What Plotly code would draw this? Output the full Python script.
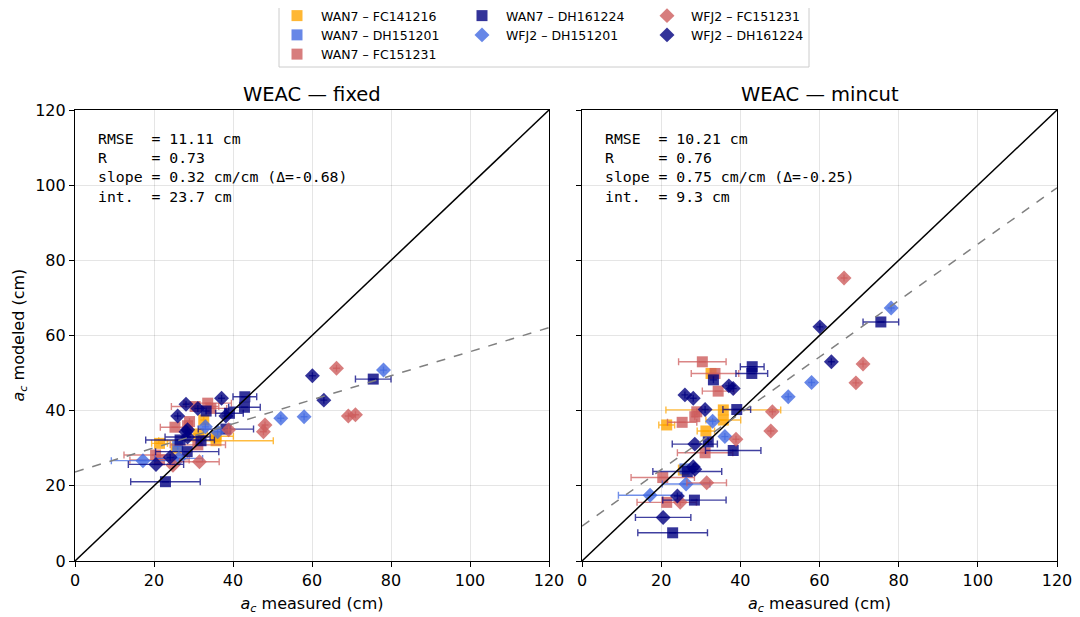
import plotly.graph_objects as go

# ---------------- data ----------------
series_names = ["WAN7 – FC141216", "WAN7 – DH151201", "WAN7 – FC151231", "WAN7 – DH161224",
                "WFJ2 – DH151201", "WFJ2 – FC151231", "WFJ2 – DH161224"]

# WAN7 – FC141216 (orange squares)
orange_x = [21.4, 35.7, 35.7, 32.6, 31.3, 25.6]
orange_xerr = [2.0, 14.5, 4.4, 0.0, 2.2, 0.0]
orange_fixed = [31.3, 32.0, 33.2, 37.5, 33.8, 30.0]
orange_mincut = [36.2, 40.2, 37.5, 49.9, 34.6, 24.2]

# WAN7 – DH151201 (blue squares)
bluesq_x = [26.0]
bluesq_xerr = [0.0]
bluesq_fixed = [30.5]
bluesq_mincut = [24.5]

# WAN7 – FC151231 (red squares)
redsq_x = [30.4, 33.6, 34.4, 29.0, 28.5, 25.3, 31.1, 20.4, 21.4]
redsq_xerr = [6.0, 6.0, 4.0, 0.0, 0.0, 3.7, 7.0, 8.0, 7.5]
redsq_fixed = [41.1, 42.0, 40.6, 37.1, 36.0, 35.6, 30.9, 28.2, 26.9]
redsq_mincut = [53.0, 49.9, 45.2, 39.7, 38.4, 36.9, 28.8, 22.2, 15.6]

# WAN7 – DH161224 (navy squares)
navysq_x = [43.0, 42.9, 33.2, 39.1, 31.9, 38.2, 26.6, 28.4, 22.9, 75.5]
navysq_xerr = [3.0, 4.0, 0.0, 3.5, 0.0, 7.0, 8.7, 8.0, 8.8, 4.5]
navysq_fixed = [43.7, 40.9, 39.9, 39.3, 32.0, 35.1, 32.2, 29.1, 21.1, 48.4]
navysq_mincut = [51.7, 49.9, 48.2, 40.3, 31.7, 29.4, 23.8, 16.2, 7.5, 63.6]

# WFJ2 – DH151201 (blue diamonds)
bluedi_x = [17.2, 26.3, 33.0, 36.1, 52.1, 58.0, 78.1]
bluedi_xerr = [8.0, 6.0, 0.0, 0.0, 0.0, 0.0, 0.0]
bluedi_fixed = [26.7, 27.3, 35.7, 34.4, 38.0, 38.4, 50.8]
bluedi_mincut = [17.5, 20.5, 37.2, 33.1, 43.7, 47.5, 67.3]

# WFJ2 – FC151231 (red diamonds)
reddi_x = [48.1, 47.7, 38.9, 31.5, 24.8, 66.2, 71.0, 69.2]
reddi_xerr = [0.0, 0.0, 0.0, 5.0, 0.0, 0.0, 0.0, 0.0]
reddi_fixed = [36.2, 34.4, 34.9, 26.4, 25.5, 51.3, 38.9, 38.6]
reddi_mincut = [39.7, 34.6, 32.4, 20.8, 15.6, 75.3, 52.4, 47.4]

# WFJ2 – DH161224 (navy diamonds)
navydi_x = [37.1, 38.2, 26.0, 28.1, 31.1, 28.5, 28.1, 28.5, 24.1, 20.5, 60.1, 63.0]
navydi_xerr = [0.0, 0.0, 0.0, 0.0, 0.0, 5.7, 0.0, 0.0, 0.0, 7.0, 0.0, 0.0]
navydi_fixed = [43.3, 38.6, 38.6, 41.7, 40.6, 33.0, 34.4, 34.9, 27.6, 25.7, 49.3, 42.8]
navydi_mincut = [46.6, 45.9, 44.2, 43.3, 40.3, 31.1, 25.1, 24.4, 17.3, 11.6, 62.3, 53.0]

# fit statistics
panel_titles = ["WEAC — fixed", "WEAC — mincut"]
stats_rmse = [11.11, 10.21]
stats_r = [0.73, 0.76]
stats_slope = [0.32, 0.75]
stats_delta = [-0.68, -0.25]
stats_int = [23.7, 9.3]
axis_ticks = [0, 20, 40, 60, 80, 100, 120]

# ---------------- styling ----------------
rgb = {
    "orange": (255, 165, 0),
    "blue": (65, 105, 225),
    "red": (205, 92, 92),
    "navy": (0, 0, 128),
}

def rgba(c, a):
    r, g, b = rgb[c]
    return f"rgba({r},{g},{b},{a})"

series_data = [
    (series_names[0], "orange", "square", orange_x, orange_xerr, orange_fixed, orange_mincut),
    (series_names[1], "blue", "square", bluesq_x, bluesq_xerr, bluesq_fixed, bluesq_mincut),
    (series_names[2], "red", "square", redsq_x, redsq_xerr, redsq_fixed, redsq_mincut),
    (series_names[3], "navy", "square", navysq_x, navysq_xerr, navysq_fixed, navysq_mincut),
    (series_names[4], "blue", "diamond", bluedi_x, bluedi_xerr, bluedi_fixed, bluedi_mincut),
    (series_names[5], "red", "diamond", reddi_x, reddi_xerr, reddi_fixed, reddi_mincut),
    (series_names[6], "navy", "diamond", navydi_x, navydi_xerr, navydi_fixed, navydi_mincut),
]
legend_of = ["legend", "legend", "legend", "legend2", "legend2", "legend3", "legend3"]

# the page adds an 8 px body margin, so the figure is drawn 8 px smaller
OFF = 8
W, H = 1080 - OFF, 617 - OFF
# plot-area edges in screen pixels
SL, SR, ST, SB = 75, 1057, 110, 561
pw = SR - SL
ph = SB - ST
ml, mt = SL - OFF, ST - OFF
mr, mb = W - (SR - OFF), H - (SB - OFF)

def px2x(p):
    return (p - SL) / pw
def py2y(p):
    return (SB - p) / ph

dom1 = [0, px2x(549)]
dom2 = [px2x(582), 1]

fig = go.Figure()

for pi, (xa, ya) in enumerate([("x", "y"), ("x2", "y2")]):
    for si, (name, col, sym, xs, xe, yf, ym) in enumerate(series_data):
        ys = yf if pi == 0 else ym
        fig.add_trace(go.Scatter(
            x=xs, y=ys, mode="markers", name=name,
            xaxis=xa, yaxis=ya,
            showlegend=(pi == 0), legend=legend_of[si], legendgroup=name,
            marker=dict(symbol=sym, size=11 if sym == "square" else 11.5,
                        color=rgba(col, 0.8), line=dict(width=0)),
            error_x=dict(type="data", array=xe, visible=True, color=rgba(col, 0.75),
                         thickness=1.4, width=3.5),
            error_y=dict(type="data", array=[0.0] * len(xs), visible=True, color=rgba(col, 0.75),
                         thickness=1.4, width=3.5),
        ))
    # 1:1 line
    fig.add_trace(go.Scatter(x=[axis_ticks[0], axis_ticks[-1]], y=[axis_ticks[0], axis_ticks[-1]],
                             mode="lines", xaxis=xa, yaxis=ya, showlegend=False,
                             line=dict(color="black", width=1.5), hoverinfo="skip"))
    # regression line
    fx = [axis_ticks[0], axis_ticks[-1]]
    fy = [stats_int[pi] + stats_slope[pi] * v for v in fx]
    fig.add_trace(go.Scatter(x=fx, y=fy, mode="lines", xaxis=xa, yaxis=ya, showlegend=False,
                             line=dict(color="rgba(128,128,128,1)", width=1.5, dash="dash"),
                             hoverinfo="skip"))

axis_common = dict(range=[0, 120], tickvals=axis_ticks, showline=True, linecolor="black",
                   linewidth=1.2, mirror=True, ticks="outside", ticklen=5, tickwidth=1.2,
                   tickcolor="black", showgrid=True, gridcolor="rgba(0,0,0,0.1)", gridwidth=1,
                   zeroline=False, tickfont=dict(size=16, color="black"))

xtitle = "<i>a<sub>c</sub></i> measured (cm)"
ytitle = "<i>a<sub>c</sub></i> modeled (cm)"

legend_common = dict(xref="paper", yref="paper", xanchor="left", yanchor="top",
                     bgcolor="rgba(0,0,0,0)", font=dict(size=12.5), tracegroupgap=0, itemwidth=38)
LEG_TOP = py2y(1)

fig.update_layout(
    width=W, height=H,
    margin=dict(l=ml, r=mr, t=mt, b=mb, autoexpand=False),
    paper_bgcolor="white", plot_bgcolor="white",
    font=dict(family="DejaVu Sans", color="black"),
    xaxis=dict(domain=dom1, anchor="y", title=dict(text=xtitle, font=dict(size=16), standoff=8), **axis_common),
    xaxis2=dict(domain=dom2, anchor="y2", title=dict(text=xtitle, font=dict(size=16), standoff=8), **axis_common),
    yaxis=dict(domain=[0, 1], anchor="x", **axis_common),
    yaxis2=dict(domain=[0, 1], anchor="x2", matches="y", showticklabels=False, **axis_common),
    showlegend=True,
    legend=dict(x=px2x(273), y=LEG_TOP, **legend_common),
    legend2=dict(x=px2x(458), y=LEG_TOP, **legend_common),
    legend3=dict(x=px2x(643), y=LEG_TOP, **legend_common),
    shapes=[dict(type="rect", xref="paper", yref="paper",
                 x0=px2x(279), x1=px2x(809), y0=py2y(67), y1=py2y(2),
                 line=dict(color="#cccccc", width=1), fillcolor="rgba(255,255,255,0.8)", layer="below")],
)

annotations = [dict(text=ytitle, xref="paper", yref="paper", x=px2x(19), y=0.5,
                    xanchor="center", yanchor="middle", textangle=-90, showarrow=False,
                    font=dict(size=16))]
for pi, xr in enumerate(["x", "x2"]):
    annotations.append(dict(text=panel_titles[pi], xref=f"{xr} domain", yref="y domain",
                            x=0.5, y=1, xanchor="center", yanchor="bottom", yshift=2,
                            showarrow=False, font=dict(size=19.5)))
    d = stats_delta[pi]
    lines = [
        f"RMSE\u00a0\u00a0=\u00a0{stats_rmse[pi]:.2f}\u00a0cm",
        f"R\u00a0\u00a0\u00a0\u00a0\u00a0=\u00a0{stats_r[pi]:.2f}",
        f"slope\u00a0=\u00a0{stats_slope[pi]:.2f}\u00a0cm/cm\u00a0(Δ={d:.2f})",
        f"int.\u00a0\u00a0=\u00a0{stats_int[pi]:.1f}\u00a0cm",
    ]
    annotations.append(dict(text="<br>".join(lines), xref=f"{xr} domain", yref="y domain",
                            x=(96 - 75) / 474,
                            y=py2y(128), xanchor="left", yanchor="top", align="left",
                            showarrow=False, font=dict(family="DejaVu Sans Mono", size=14.8)))
fig.update_layout(annotations=annotations)

fig.write_html("out.html")
